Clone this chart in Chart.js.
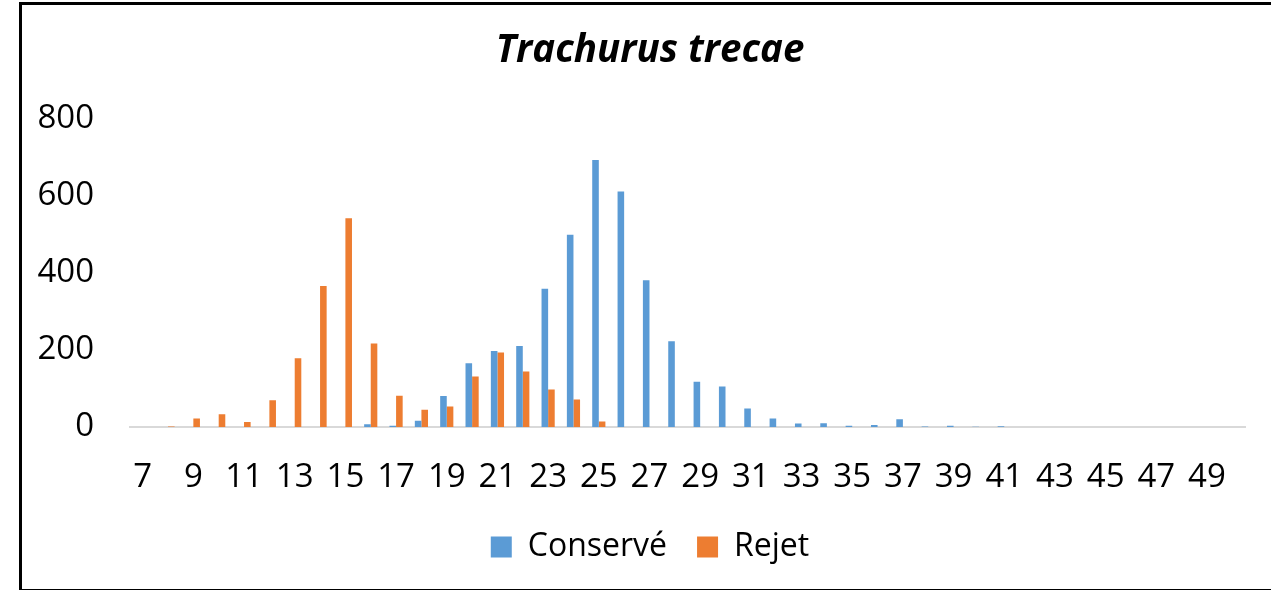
<!DOCTYPE html>
<html>
<head>
<meta charset="utf-8">
<script src="https://cdn.jsdelivr.net/npm/chart.js@4/dist/chart.umd.min.js"></script>
<style>
  body { margin: 0; background: #fff; overflow: hidden; }
  #frame { position: absolute; left: 19px; top: 2px; width: 1300px; height: 584px; border: 3px solid #000; border-right: none; }
  #wrap { position: absolute; left: 0; top: 0; width: 1300px; height: 590px; }
</style>
</head>
<body>
<div id="frame"></div>
<div id="wrap"><canvas id="chart" width="1300" height="590"></canvas></div>
<script>
// size classes (cm) 7..50
var sizes = [];
for (var s = 7; s <= 50; s++) sizes.push(String(s));

// counts
var conserve = [0, 0, 0, 0, 0, 0, 0, 0, 0, 7, 3, 16, 80, 165, 197, 210, 358, 498, 692, 610,
                380, 222, 117, 105, 48, 22, 9, 10, 3, 5, 20, 1, 3, 0.5, 2, 0, 0, 0, 0, 0, 0, 0, 0, 0];
var rejet = [0, 1, 22, 33, 13, 69, 178, 365, 541, 216, 81, 45, 53, 131, 193, 144, 97, 71, 14, 0,
             0, 0, 0, 0, 0, 0, 0, 0, 0, 0, 0, 0, 0, 0, 0, 0, 0, 0, 0, 0, 0, 0, 0, 0];
var yTicks = [0, 200, 400, 600, 800];

var font = "'Open Sans', sans-serif";

new Chart(document.getElementById("chart"), {
  type: "bar",
  data: {
    labels: sizes,
    datasets: [
      { label: "Conservé", data: conserve, backgroundColor: "#5b9bd5", categoryPercentage: 0.52, barPercentage: 1 },
      { label: "Rejet", data: rejet, backgroundColor: "#ed7d31", categoryPercentage: 0.52, barPercentage: 1 }
    ]
  },
  options: {
    responsive: false,
    animation: false,
    layout: { padding: { left: 20, right: 20, top: 0, bottom: 17 } },
    plugins: {
      title: {
        display: true,
        text: "Trachurus trecae",
        color: "#000",
        font: { family: font, size: 38.5, weight: "bold", style: "italic" },
        padding: { top: 28, bottom: 44 }
      },
      legend: {
        position: "bottom",
        labels: {
          color: "#000",
          font: { family: font, size: 32 },
          boxWidth: 21, boxHeight: 21,
          padding: 30
        }
      },
      tooltip: { enabled: false }
    },
    scales: {
      x: {
        // invisible tick marks only push the labels down
        grid: { display: true, drawOnChartArea: false, drawTicks: true, tickLength: 27, color: "rgba(0,0,0,0)" },
        border: { display: true, color: "#d9d9d9", width: 2 },
        ticks: {
          color: "#000",
          font: { family: font, size: 33, lineHeight: 1 },
          autoSkip: false,
          maxRotation: 0,
          padding: 7,
          callback: function (v, i) { return i % 2 === 0 ? sizes[i] : ""; }
        }
      },
      y: {
        min: 0, max: 800,
        afterBuildTicks: function (scale) { scale.ticks = yTicks.map(function (v) { return { value: v }; }); },
        afterFit: function (scale) { scale.width = 110; },
        grid: { display: false, drawTicks: false },
        border: { display: false },
        ticks: {
          color: "#000",
          font: { family: font, size: 33 },
          padding: 36
        }
      },
      // empty right-hand spacer so the plot stops where the reference plot stops
      spacer: {
        type: "linear",
        position: "right",
        afterFit: function (scale) { scale.width = 35; },
        grid: { display: false, drawTicks: false },
        border: { display: false },
        ticks: { display: false }
      }
    }
  }
});
</script>
</body>
</html>
